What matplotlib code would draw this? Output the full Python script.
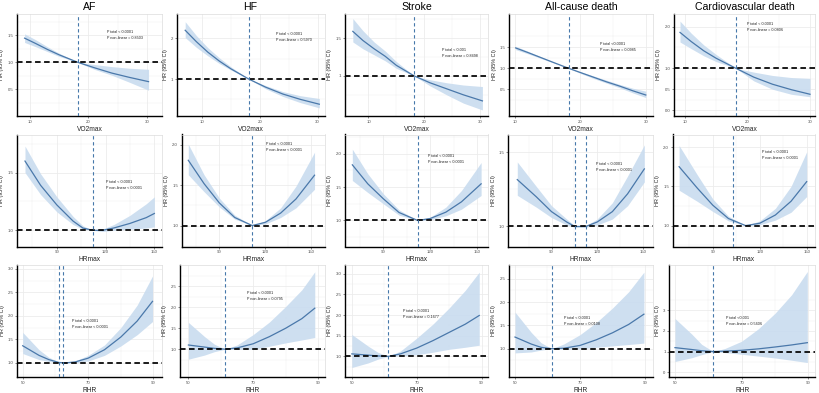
import matplotlib
matplotlib.use("Agg")
import matplotlib.pyplot as plt
import numpy as np

plt.rcParams['font.family'] = ['Liberation Sans', 'DejaVu Sans']

# ---------------- data ----------------
outcomes = ["AF", "HF", "Stroke", "All-cause death", "Cardiovascular death"]
exposures = ["VO2max", "HRmax", "RHR"]

# Row 1: VO2max
vo2_af_x = [9.1, 11, 13, 15, 18.2, 21, 24, 27, 30.3]
vo2_af_hr = [1.45, 1.35, 1.24, 1.14, 1.0, 0.9, 0.8, 0.72, 0.64]
vo2_af_lo = [1.37, 1.29, 1.20, 1.11, 1.0, 0.87, 0.76, 0.63, 0.48]
vo2_af_hi = [1.53, 1.42, 1.29, 1.17, 1.0, 0.96, 0.92, 0.89, 0.87]

vo2_hf_x = [7.07, 9, 11, 13, 15, 18.07, 21, 24, 27, 30.3]
vo2_hf_hr = [2.2, 1.92, 1.66, 1.44, 1.25, 1.0, 0.8, 0.63, 0.5, 0.38]
vo2_hf_hi = [2.41, 2.07, 1.77, 1.52, 1.3, 1.0, 0.84, 0.69, 0.59, 0.52]
vo2_hf_lo = [2.02, 1.78, 1.57, 1.38, 1.22, 1.0, 0.76, 0.57, 0.42, 0.29]

vo2_st_x = [7.2, 9, 11, 13, 15, 18.2, 21, 24, 27, 30.4]
vo2_st_hr = [1.59, 1.47, 1.36, 1.26, 1.14, 1.0, 0.91, 0.83, 0.75, 0.67]
vo2_st_hi = [1.76, 1.6, 1.45, 1.33, 1.19, 1.0, 0.95, 0.91, 0.88, 0.86]
vo2_st_lo = [1.45, 1.36, 1.28, 1.2, 1.1, 1.0, 0.87, 0.75, 0.64, 0.55]

vo2_ac_x = [10.1, 12, 14, 16, 18.2, 20, 22, 24, 26, 28, 30]
vo2_ac_hr = [1.48, 1.37, 1.25, 1.13, 1.0, 0.9, 0.79, 0.68, 0.58, 0.47, 0.37]
vo2_ac_hi = [1.52, 1.4, 1.27, 1.14, 1.0, 0.92, 0.82, 0.72, 0.62, 0.53, 0.46]
vo2_ac_lo = [1.44, 1.34, 1.23, 1.12, 1.0, 0.88, 0.76, 0.65, 0.54, 0.42, 0.31]

vo2_cv_x = [9.2, 11, 13, 15, 18.16, 21, 24, 27, 30]
vo2_cv_hr = [1.86, 1.64, 1.42, 1.24, 1.0, 0.79, 0.62, 0.49, 0.38]
vo2_cv_hi = [2.13, 1.84, 1.56, 1.33, 1.0, 0.91, 0.83, 0.78, 0.76]
vo2_cv_lo = [1.63, 1.47, 1.3, 1.16, 1.0, 0.7, 0.5, 0.38, 0.32]

# Row 2: HRmax
hrm_af_x = [70.4, 80, 90, 100, 106, 112.2, 118, 125, 135, 145, 150]
hrm_af_hr = [1.60, 1.39, 1.22, 1.08, 1.02, 1.0, 1.0, 1.02, 1.06, 1.11, 1.146]
hrm_af_hi = [1.73, 1.49, 1.29, 1.12, 1.04, 1.0, 1.01, 1.05, 1.13, 1.23, 1.29]
hrm_af_lo = [1.50, 1.31, 1.16, 1.05, 1.01, 1.0, 0.99, 1.0, 1.01, 1.02, 1.03]

hrm_hf_x = [69.7, 80, 90, 100, 111.4, 120, 130, 140, 152.1]
hrm_hf_hr = [1.81, 1.52, 1.28, 1.1, 1.0, 1.04, 1.155, 1.33, 1.625]
hrm_hf_hi = [2.01, 1.63, 1.34, 1.13, 1.0, 1.06, 1.22, 1.49, 1.91]
hrm_hf_lo = [1.63, 1.42, 1.23, 1.08, 1.0, 1.02, 1.1, 1.22, 1.45]

hrm_st_x = [70.1, 80, 90, 100, 112, 120, 130, 140, 152.6]
hrm_st_hr = [1.835, 1.55, 1.325, 1.12, 1.0, 1.03, 1.125, 1.28, 1.55]
hrm_st_hi = [2.07, 1.7, 1.4, 1.16, 1.0, 1.05, 1.2, 1.45, 1.87]
hrm_st_lo = [1.6, 1.42, 1.25, 1.08, 1.0, 1.01, 1.07, 1.17, 1.375]

hrm_ac_x = [67.5, 80, 90, 100, 105.3, 112.5, 120, 130, 140, 151]
hrm_ac_hr = [1.316, 1.2, 1.10, 1.03, 1.0, 1.0, 1.03, 1.10, 1.22, 1.388]
hrm_ac_hi = [1.435, 1.27, 1.14, 1.05, 1.005, 1.005, 1.05, 1.16, 1.34, 1.55]
hrm_ac_lo = [1.21, 1.13, 1.06, 1.01, 0.995, 0.995, 1.01, 1.05, 1.14, 1.30]

hrm_cv_x = [68.5, 80, 90, 100, 111, 120, 130, 140, 150]
hrm_cv_hr = [1.75, 1.48, 1.26, 1.09, 1.0, 1.03, 1.135, 1.31, 1.56]
hrm_cv_hi = [2.02, 1.65, 1.34, 1.12, 1.0, 1.06, 1.22, 1.5, 1.94]
hrm_cv_lo = [1.45, 1.31, 1.18, 1.06, 1.0, 1.01, 1.07, 1.17, 1.37]

# Row 3: RHR
rhr_af_x = [50, 55, 58, 61, 63, 66, 70, 75, 80, 85, 89.7]
rhr_af_hr = [1.365, 1.16, 1.07, 1.01, 1.0, 1.02, 1.1, 1.28, 1.55, 1.89, 2.31]
rhr_af_hi = [1.65, 1.28, 1.12, 1.02, 1.0, 1.04, 1.16, 1.38, 1.75, 2.23, 2.85]
rhr_af_lo = [1.2, 1.07, 1.03, 1.0, 1.0, 1.0, 1.04, 1.16, 1.36, 1.6, 1.88]

rhr_hf_x = [50, 55, 58, 61.3, 65, 70, 75, 80, 85, 89]
rhr_hf_hr = [1.1, 1.05, 1.02, 1.0, 1.03, 1.13, 1.3, 1.5, 1.73, 1.98]
rhr_hf_hi = [1.64, 1.3, 1.12, 1.0, 1.1, 1.35, 1.65, 2.02, 2.42, 2.85]
rhr_hf_lo = [0.76, 0.86, 0.94, 1.0, 1.0, 1.0, 1.07, 1.15, 1.22, 1.28]

rhr_st_x = [50, 55, 58, 61.3, 65, 70, 75, 80, 85, 89.3]
rhr_st_hr = [1.06, 1.03, 1.01, 1.0, 1.06, 1.2, 1.38, 1.58, 1.78, 1.99]
rhr_st_hi = [1.53, 1.25, 1.1, 1.0, 1.13, 1.44, 1.78, 2.17, 2.6, 3.04]
rhr_st_lo = [0.73, 0.84, 0.93, 1.0, 1.01, 1.04, 1.1, 1.17, 1.22, 1.27]

rhr_ac_x = [50, 55, 58, 61.3, 65, 70, 75, 80, 85, 89.7]
rhr_ac_hr = [1.25, 1.1, 1.03, 1.0, 1.01, 1.07, 1.19, 1.34, 1.52, 1.74]
rhr_ac_hi = [1.785, 1.35, 1.13, 1.0, 1.1, 1.3, 1.56, 1.87, 2.22, 2.64]
rhr_ac_lo = [0.91, 0.93, 0.97, 1.0, 0.99, 1.0, 1.03, 1.06, 1.09, 1.12]

rhr_cv_x = [50, 55, 58, 61.5, 65, 70, 75, 80, 85, 89.7]
rhr_cv_hr = [1.19, 1.1, 1.04, 1.0, 1.02, 1.06, 1.13, 1.22, 1.32, 1.43]
rhr_cv_hi = [2.6, 1.85, 1.35, 1.0, 1.15, 1.5, 2.1, 2.85, 3.75, 4.87]
rhr_cv_lo = [0.52, 0.7, 0.85, 1.0, 0.95, 0.87, 0.78, 0.69, 0.58, 0.47]

# reference (knot) lines
ref_vo2 = [[18.2], [18.07], [18.2], [18.2], [18.16]]
ref_hrm = [[112.2], [111.4], [112.0], [105.3, 112.5], [102.6]]
ref_rhr = [[61.1, 62.4], [61.3], [61.3], [61.3], [61.5]]

p_total = [
    ["< 0.0001", "< 0.0001", "< 0.001", "<0.0001", "< 0.0001"],
    ["< 0.0001", "< 0.0001", "< 0.0001", "< 0.0001", "< 0.0001"],
    ["< 0.0001", "< 0.0001", "< 0.0001", "< 0.0001", "<0.001"],
]
p_nonlin = [
    ["= 0.8503", "= 0.5970", "= 0.8498", "= 0.0985", "= 0.0806"],
    ["< 0.0001", "< 0.0001", "< 0.0001", "< 0.0001", "< 0.0001"],
    ["< 0.0001", "= 0.0795", "= 0.1677", "= 0.0108", "= 0.5606"],
]

xticks_rows = [[10, 20, 30], [90, 120, 150], [50, 70, 90]]
yticks = [
    [[0.5, 1.0, 1.5], [1, 2], [1, 1.5], [0.5, 1.0, 1.5], [0.0, 0.5, 1.0, 2.0]],
    [[1.0, 1.5], [1.0, 1.5, 2.0], [1.0, 1.5, 2.0], [1.0, 1.5], [1.0, 1.5, 2.0]],
    [[1.0, 1.5, 2.0, 2.5, 3.0], [1.0, 1.5, 2.0, 2.5], [1.0, 1.5, 2.0, 2.5, 3.0],
     [1.0, 1.5, 2.0, 2.5], [0, 1, 2, 3]],
]
ytick_labels = [
    [["0.5", "1.0", "1.5"], ["1", "2"], ["1", "1.5"], ["0.5", "1.0", "1.5"], ["0.0", "0.5", "1.0", "2.0"]],
    [["1.0", "1.5"], ["1.0", "1.5", "2.0"], ["1.0", "1.5", "2.0"], ["1.0", "1.5"], ["1.0", "1.5", "2.0"]],
    [["1.0", "1.5", "2.0", "2.5", "3.0"], ["1.0", "1.5", "2.0", "2.5"], ["1.0", "1.5", "2.0", "2.5", "3.0"],
     ["1.0", "1.5", "2.0", "2.5"], ["0", "1", "2", "3"]],
]

curves = [
    [(vo2_af_x, vo2_af_hr, vo2_af_lo, vo2_af_hi), (vo2_hf_x, vo2_hf_hr, vo2_hf_lo, vo2_hf_hi),
     (vo2_st_x, vo2_st_hr, vo2_st_lo, vo2_st_hi), (vo2_ac_x, vo2_ac_hr, vo2_ac_lo, vo2_ac_hi),
     (vo2_cv_x, vo2_cv_hr, vo2_cv_lo, vo2_cv_hi)],
    [(hrm_af_x, hrm_af_hr, hrm_af_lo, hrm_af_hi), (hrm_hf_x, hrm_hf_hr, hrm_hf_lo, hrm_hf_hi),
     (hrm_st_x, hrm_st_hr, hrm_st_lo, hrm_st_hi), (hrm_ac_x, hrm_ac_hr, hrm_ac_lo, hrm_ac_hi),
     (hrm_cv_x, hrm_cv_hr, hrm_cv_lo, hrm_cv_hi)],
    [(rhr_af_x, rhr_af_hr, rhr_af_lo, rhr_af_hi), (rhr_hf_x, rhr_hf_hr, rhr_hf_lo, rhr_hf_hi),
     (rhr_st_x, rhr_st_hr, rhr_st_lo, rhr_st_hi), (rhr_ac_x, rhr_ac_hr, rhr_ac_lo, rhr_ac_hi),
     (rhr_cv_x, rhr_cv_hr, rhr_cv_lo, rhr_cv_hi)],
]
refs = [ref_vo2, ref_hrm, ref_rhr]

# ---------------- layout (pixels) ----------------
W, H = 819, 393
lefts = [[17, 176.7, 345, 509.3, 674], [16.7, 181.7, 345, 508.3, 672.7], [17.3, 180, 345, 509, 669.3]]
rights = [162, 324.5, 488, 653, 815]
tops = [14, 134.5, 264.7]
bottoms = [116, 246.5, 377]
xlims = [
    [(7.8, 32.6), (5.6, 31.2), (5.8, 31.4), (9.13, 31.1), (8.24, 30.8)],
    [(65.3, 154.7), (65.4, 158.6), (65.4, 157), (61.6, 156.7), (64.4, 155.3)],
    [(48.35, 92.6), (47.4, 92), (47.9, 92), (48.15, 92.5), (48.3, 92)],
]
ylims = [
    [(0.0, 1.9), (0.09, 2.6), (0.47, 1.82), (-0.125, 2.28), (-0.14, 2.3)],
    [(0.86, 1.83), (0.74, 2.13), (0.61, 2.29), (0.865, 1.62), (0.734, 2.16)],
    [(0.7, 3.09), (0.335, 3.02), (0.5, 3.22), (0.394, 2.8), (-0.23, 5.2)],
]
ptext_px = [
    [(107, 31.7), (276, 34.3), (441.7, 50), (600, 44.3), (747.3, 24.3)],
    [(106, 181.7), (266, 144), (428.3, 156), (596, 164.3), (761.7, 151.7)],
    [(71.7, 321.3), (246.7, 293), (403.3, 311.3), (564.3, 318), (726, 318)],
]

LINE = '#4a78aa'
BAND = '#c9dcef'
VLINE = '#4678aa'
GRID = '#ececec'

fig = plt.figure(figsize=(W / 100, H / 100), dpi=100)
fig.patch.set_facecolor('white')


def minors(ticks, lim):
    t = list(ticks)
    mids = [(a + b) / 2 for a, b in zip(t[:-1], t[1:])]
    if len(t) > 1:
        step = t[1] - t[0]
        mids = [t[0] - step / 2] + mids + [t[-1] + (t[-1] - t[-2]) / 2]
    return [m for m in mids if lim[0] <= m <= lim[1]]


for r in range(3):
    for c in range(5):
        l, rt = lefts[r][c], rights[c]
        t, b = tops[r], bottoms[r]
        ax = fig.add_axes([l / W, 1 - b / H, (rt - l) / W, (b - t) / H])
        ax.set_facecolor('white')
        xl, yl = xlims[r][c], ylims[r][c]
        xt = xticks_rows[r]
        yt = yticks[r][c]
        # grid
        for v in minors(xt, xl):
            ax.axvline(v, color=GRID, lw=0.3, zorder=0)
        for v in minors(yt, yl):
            ax.axhline(v, color=GRID, lw=0.3, zorder=0)
        for v in xt:
            ax.axvline(v, color=GRID, lw=0.6, zorder=0)
        for v in yt:
            ax.axhline(v, color=GRID, lw=0.6, zorder=0)

        x, hr, lo, hi = curves[r][c]
        ax.fill_between(x, lo, hi, color=BAND, lw=0, alpha=0.9, zorder=1)
        ax.plot(x, hr, color=LINE, lw=0.9, zorder=2)
        ax.axhline(1.0, color='black', lw=1.25, dashes=(3.2, 2.0), zorder=3)
        for v in refs[r][c]:
            ax.axvline(v, color=VLINE, lw=0.8, dashes=(3.0, 2.4), zorder=3)

        ax.set_xlim(*xl)
        ax.set_ylim(*yl)
        ax.set_xticks(xt)
        ax.set_xticklabels([str(v) for v in xt])
        ax.set_yticks(yt)
        ax.set_yticklabels(ytick_labels[r][c])
        ax.tick_params(length=1.5, width=0.4, color='#333333', labelsize=3.1,
                       labelcolor='#4d4d4d', pad=1.2)
        for s in ['top', 'right']:
            ax.spines[s].set_color('#dcdcdc')
            ax.spines[s].set_linewidth(0.5)
        for s in ['left', 'bottom']:
            ax.spines[s].set_color('black')
            ax.spines[s].set_linewidth(1.0)
        ax.set_xlabel(exposures[r], fontsize=4.8, labelpad=1.3, color='#222222')
        ax.set_ylabel("HR (95% CI)", fontsize=3.9, labelpad=2.2, color='#222222')

        px, py = ptext_px[r][c]
        fx = (px - l) / (rt - l)
        for k, s in enumerate(["P total " + p_total[r][c], "P non-linear " + p_nonlin[r][c]]):
            fy = (b - (py + 6 * k)) / (b - t)
            ax.text(fx, fy, s, transform=ax.transAxes, fontsize=2.7, ha='left',
                    va='center', color='#222222')

        if r == 0:
            fig.text((l + rt) / 2 / W, 1 - 7.5 / H, outcomes[c], ha='center', va='center',
                     fontsize=7.6, color='black')

fig.savefig('out.png', dpi=100, facecolor='white')
